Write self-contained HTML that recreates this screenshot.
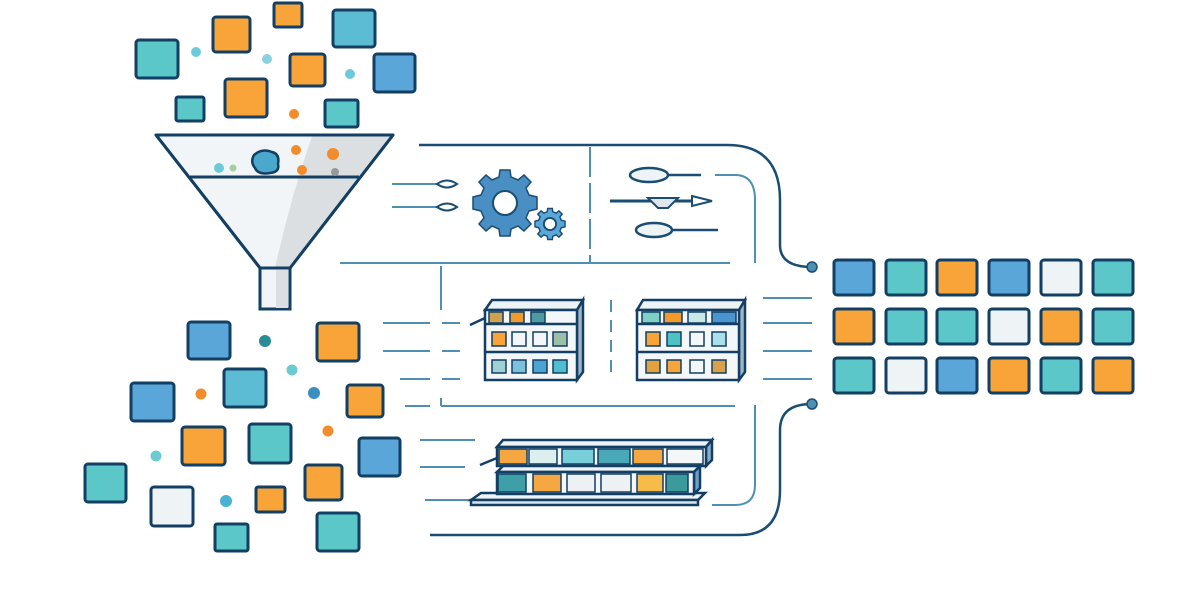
<!DOCTYPE html>
<html><head><meta charset="utf-8"><style>html,body{margin:0;padding:0;background:#fff;width:1200px;height:600px;overflow:hidden}</style></head>
<body>
<svg width="1200" height="600" viewBox="0 0 1200 600" xmlns="http://www.w3.org/2000/svg">
<defs>
<style>
.s{stroke:#123f63;stroke-width:3;}
.t{fill:#5cc7c9}.b{fill:#5aa6d8}.o{fill:#f8a438}.w{fill:#eef3f6}.tb{fill:#5bbcd3}
.ln{stroke:#4f8fb3;stroke-width:2;fill:none}
.dk{stroke:#1a4d73;stroke-width:2.5;fill:none}
</style>
</defs>
<rect width="1200" height="600" fill="#fff"/>
<!-- top squares -->
<g class="s">
<rect class="t" x="136" y="40" width="42" height="38" rx="3"/>
<rect class="o" x="213" y="17" width="37" height="35" rx="3"/>
<rect class="o" x="274" y="3" width="28" height="24" rx="2"/>
<rect class="tb" x="333" y="10" width="42" height="37" rx="3"/>
<rect class="o" x="290" y="54" width="35" height="32" rx="3"/>
<rect class="b" x="374" y="54" width="41" height="38" rx="3"/>
<rect class="o" x="225" y="79" width="42" height="38" rx="3"/>
<rect class="t" x="176" y="97" width="28" height="24" rx="2"/>
<rect class="t" x="325" y="100" width="33" height="27" rx="2"/>
</g>
<circle cx="196" cy="52" r="5" fill="#6ccbdb"/>
<circle cx="267" cy="59" r="5" fill="#8cd0df"/>
<circle cx="350" cy="74" r="5" fill="#6ccbdb"/>
<circle cx="294" cy="114" r="5" fill="#f08c2c"/>
<!-- funnel -->
<path d="M156 135 L393 135 L290 268 L260 268 Z" fill="#f1f5f8" stroke="#123f63" stroke-width="3" stroke-linejoin="round"/>
<path d="M312 136 L393 135 L290 268 L275 268 Q290 200 312 136Z" fill="#dcdfe2"/>
<path d="M156 135 L393 135 L290 268 L260 268 Z" fill="none" stroke="#123f63" stroke-width="3" stroke-linejoin="round"/>
<line x1="190" y1="177" x2="359" y2="177" stroke="#123f63" stroke-width="3"/>
<rect x="260" y="268" width="30" height="41" fill="#f1f5f8" stroke="#123f63" stroke-width="3"/>
<rect x="276" y="270" width="12" height="38" fill="#dcdfe2"/>
<path d="M254 155 Q262 148 272 152 Q280 154 278 164 Q280 172 270 173 Q258 175 255 168 Q250 162 254 155Z" fill="#4aa8cc" stroke="#123f63" stroke-width="2.5"/>
<circle cx="219" cy="168" r="5" fill="#6ccbdb"/><circle cx="233" cy="168" r="3.5" fill="#a3d0a0"/>
<circle cx="296" cy="150" r="5" fill="#f08c2c"/><circle cx="302" cy="170" r="5" fill="#f08c2c"/><circle cx="333" cy="154" r="6" fill="#f08c2c"/><circle cx="335" cy="172" r="4" fill="#999"/>
<!-- bottom-left squares -->
<g class="s">
<rect class="b" x="188" y="322" width="42" height="37" rx="3"/>
<rect class="o" x="317" y="323" width="42" height="38" rx="3"/>
<rect class="tb" x="224" y="369" width="42" height="38" rx="3"/>
<rect class="b" x="131" y="383" width="43" height="38" rx="3"/>
<rect class="o" x="347" y="385" width="36" height="32" rx="3"/>
<rect class="o" x="182" y="427" width="43" height="38" rx="3"/>
<rect class="t" x="249" y="424" width="42" height="39" rx="3"/>
<rect class="b" x="359" y="438" width="41" height="38" rx="3"/>
<rect class="t" x="85" y="464" width="41" height="38" rx="3"/>
<rect class="w" x="151" y="487" width="42" height="39" rx="3"/>
<rect class="o" x="256" y="487" width="29" height="25" rx="2"/>
<rect class="o" x="305" y="465" width="37" height="35" rx="3"/>
<rect class="t" x="215" y="524" width="33" height="27" rx="2"/>
<rect class="t" x="317" y="513" width="42" height="38" rx="3"/>
</g>
<circle cx="265" cy="341" r="6" fill="#2a8c94"/><circle cx="292" cy="370" r="5.5" fill="#6ccbd0"/>
<circle cx="201" cy="394" r="5.5" fill="#f08c2c"/><circle cx="314" cy="393" r="6" fill="#3a8fc0"/>
<circle cx="328" cy="431" r="5.5" fill="#f08c2c"/><circle cx="156" cy="456" r="5.5" fill="#6ccbd0"/>
<circle cx="226" cy="501" r="6" fill="#4ab3d3"/>
<!-- connector lines -->
<path class="dk" d="M419 145 H727 Q780 145 780 200 V245 Q780 267 812 267"/>
<circle cx="812" cy="267" r="5" fill="#4f8fb3" stroke="#1a4d73" stroke-width="1.5"/>
<path class="dk" d="M430 535 H740 Q780 535 780 490 V430 Q780 404 812 404"/>
<circle cx="812" cy="404" r="5" fill="#4f8fb3" stroke="#1a4d73" stroke-width="1.5"/>
<path class="ln" d="M715 175 H735 Q755 175 755 200 V263"/>
<path class="ln" d="M755 405 V485 Q755 505 735 505 H712"/>
<line class="ln" x1="590" y1="147" x2="590" y2="263" stroke-dasharray="30 6"/>
<line class="ln" x1="340" y1="263" x2="730" y2="263"/>
<line class="ln" x1="441" y1="266" x2="441" y2="310" />
<line class="ln" x1="441" y1="406" x2="735" y2="406"/>
<line class="ln" x1="441" y1="398" x2="441" y2="406"/>
<line class="ln" x1="611" y1="300" x2="611" y2="380" stroke-dasharray="12 8"/>
<line class="ln" x1="392" y1="184" x2="440" y2="184"/>
<line class="ln" x1="392" y1="207" x2="440" y2="207"/>
<path d="M437 184 Q447 177 457 184 Q447 191 437 184Z M437 207 Q447 200 457 207 Q447 214 437 207Z" fill="#fff" stroke="#1a4d73" stroke-width="2"/>
<g class="ln">
<path d="M383 323 H430 M442 323 H460 M383 351 H430 M442 351 H460 M400 379 H430 M442 379 H460 M405 406 H430"/>
<path d="M763 298 H812 M763 323 H812 M763 351 H812 M763 379 H812"/>
<path d="M420 440 H475 M420 467 H465 M425 500 H470"/>
</g>
<!-- gears -->
<g transform="translate(505,203)">
<g fill="#4a8fc4" stroke="#1a4d73" stroke-width="1.5">
<path d="M-5 -33 H5 L6 -26 L13 -23 L19 -28 L26 -21 L21 -15 L24 -8 L32 -6 V6 L24 8 L21 15 L26 21 L19 28 L13 23 L6 26 L5 33 H-5 L-6 26 L-13 23 L-19 28 L-26 21 L-21 15 L-24 8 L-32 6 V-6 L-24 -8 L-21 -15 L-26 -21 L-19 -28 L-13 -23 L-6 -26Z"/>
</g>
<circle r="12" fill="#fff" stroke="#1a4d73" stroke-width="2"/>
</g>
<g transform="translate(550,224) scale(0.47)">
<path d="M-5 -33 H5 L6 -26 L13 -23 L19 -28 L26 -21 L21 -15 L24 -8 L32 -6 V6 L24 8 L21 15 L26 21 L19 28 L13 23 L6 26 L5 33 H-5 L-6 26 L-13 23 L-19 28 L-26 21 L-21 15 L-24 8 L-32 6 V-6 L-24 -8 L-21 -15 L-26 -21 L-19 -28 L-13 -23 L-6 -26Z" fill="#5aa6d8" stroke="#1a4d73" stroke-width="3"/>
<circle r="13" fill="#fff" stroke="#1a4d73" stroke-width="4"/>
</g>
<!-- spoons -->
<line x1="665" y1="175" x2="701" y2="175" stroke="#1a4d73" stroke-width="2.5"/>
<ellipse cx="649" cy="175" rx="19" ry="7" fill="#eef3f6" stroke="#1a4d73" stroke-width="2.5"/>
<line x1="610" y1="201" x2="710" y2="201" stroke="#1a4d73" stroke-width="3"/>
<path d="M648 198 H678 L668 208 H658Z" fill="#dfe6ec" stroke="#1a4d73" stroke-width="2"/>
<path d="M692 196 L712 201 L692 206Z" fill="#fff" stroke="#1a4d73" stroke-width="2"/>
<line x1="670" y1="230" x2="718" y2="230" stroke="#1a4d73" stroke-width="2.5"/>
<ellipse cx="654" cy="230" rx="18" ry="7" fill="#eef3f6" stroke="#1a4d73" stroke-width="2.5"/>
<!-- cabinet 1 -->
<g stroke="#123f63" stroke-width="2.5">
<path d="M485 310 L492 300 H583 L577 310Z" fill="#eef3f6"/>
<path d="M577 310 L583 300 V372 L577 380Z" fill="#9fb6c8"/>
<rect x="485" y="310" width="92" height="70" fill="#f4f7fa"/>
<line x1="485" y1="324" x2="577" y2="324"/><line x1="485" y1="352" x2="577" y2="352"/>
<path d="M470 325 L485 318" fill="none"/>
</g>
<g stroke="#123f63" stroke-width="1.5">
<rect x="489" y="312" width="14" height="11" fill="#d0a24e"/><rect x="510" y="312" width="14" height="11" fill="#f29a2c"/><rect x="531" y="312" width="14" height="11" fill="#4f9aa3"/>
<rect x="492" y="332" width="14" height="14" fill="#f8a438"/><rect x="512" y="332" width="14" height="14" fill="#f4f7fa"/><rect x="533" y="332" width="14" height="14" fill="#f4f7fa"/><rect x="553" y="332" width="14" height="14" fill="#9cbfa8"/>
<rect x="492" y="360" width="14" height="13" fill="#9fd0d4"/><rect x="512" y="360" width="14" height="13" fill="#7cc1dc"/><rect x="533" y="360" width="14" height="13" fill="#4aa3d0"/><rect x="553" y="360" width="14" height="13" fill="#4fbfd0"/>
</g>
<!-- cabinet 2 -->
<g stroke="#123f63" stroke-width="2.5">
<path d="M637 310 L643 300 H745 L739 310Z" fill="#eef3f6"/>
<path d="M739 310 L745 300 V372 L739 380Z" fill="#9fb6c8"/>
<rect x="637" y="310" width="102" height="70" fill="#f4f7fa"/>
<line x1="637" y1="324" x2="739" y2="324"/><line x1="637" y1="352" x2="739" y2="352"/>
</g>
<g stroke="#123f63" stroke-width="1.5">
<rect x="642" y="312" width="18" height="11" fill="#7ecfc4"/><rect x="664" y="312" width="18" height="11" fill="#f29a2c"/><rect x="688" y="312" width="18" height="11" fill="#c9e8e6"/><rect x="712" y="312" width="24" height="11" fill="#4a95cf"/>
<rect x="646" y="332" width="14" height="14" fill="#f8a438"/><rect x="667" y="332" width="14" height="14" fill="#4fc0c4"/><rect x="690" y="332" width="14" height="14" fill="#f4f7fa"/><rect x="712" y="332" width="14" height="14" fill="#a9e0ea"/>
<rect x="646" y="360" width="14" height="13" fill="#e3a23e"/><rect x="667" y="360" width="14" height="13" fill="#f8a438"/><rect x="690" y="360" width="14" height="13" fill="#f4f7fa"/><rect x="712" y="360" width="14" height="13" fill="#d9a24a"/>
</g>
<!-- bottom rack -->
<g stroke="#123f63" stroke-width="2.5">
<path d="M471 500 L481 493 H705 L698 500 Z" fill="#eef3f6"/>
<rect x="471" y="500" width="227" height="5" fill="#dde6ee"/>
<path d="M497 447 L503 440 H712 L706 447Z" fill="#eef3f6"/>
<path d="M706 447 L712 440 V460 L706 466Z" fill="#8aaecb"/>
<rect x="497" y="447" width="209" height="19" fill="#f4f7fa"/>
<path d="M480 465 L497 458" fill="none"/>
<path d="M497 472 L503 466 H700 L694 472Z" fill="#eef3f6"/>
<path d="M694 472 L700 466 V488 L694 494Z" fill="#6fa0c4"/>
<rect x="497" y="472" width="197" height="22" fill="#f4f7fa"/>
</g>
<g stroke="#123f63" stroke-width="1.5">
<rect x="499" y="449" width="28" height="15" fill="#f5a742"/><rect x="529" y="449" width="28" height="15" fill="#dceff0"/><rect x="562" y="449" width="32" height="15" fill="#79cfd9"/><rect x="598" y="449" width="32" height="15" fill="#4aa9b8"/><rect x="633" y="449" width="30" height="15" fill="#f5a742"/><rect x="667" y="449" width="36" height="15" fill="#f4f7fa"/>
<rect x="498" y="474" width="28" height="18" fill="#3e9fa8"/><rect x="533" y="474" width="28" height="18" fill="#f5a742"/><rect x="567" y="474" width="28" height="18" fill="#eef1f3"/><rect x="601" y="474" width="30" height="18" fill="#eef1f3"/><rect x="637" y="474" width="26" height="18" fill="#f7bb4a"/><rect x="666" y="474" width="22" height="18" fill="#3a9a9c"/>
</g>
<!-- right grid -->
<g class="s">
<rect class="b" x="834" y="260" width="40" height="35" rx="3"/><rect class="t" x="886" y="260" width="40" height="35" rx="3"/><rect class="o" x="937" y="260" width="40" height="35" rx="3"/><rect class="b" x="989" y="260" width="40" height="35" rx="3"/><rect class="w" x="1041" y="260" width="40" height="35" rx="3"/><rect class="t" x="1093" y="260" width="40" height="35" rx="3"/>
<rect class="o" x="834" y="309" width="40" height="35" rx="3"/><rect class="t" x="886" y="309" width="40" height="35" rx="3"/><rect class="t" x="937" y="309" width="40" height="35" rx="3"/><rect class="w" x="989" y="309" width="40" height="35" rx="3"/><rect class="o" x="1041" y="309" width="40" height="35" rx="3"/><rect class="t" x="1093" y="309" width="40" height="35" rx="3"/>
<rect class="t" x="834" y="358" width="40" height="35" rx="3"/><rect class="w" x="886" y="358" width="40" height="35" rx="3"/><rect class="b" x="937" y="358" width="40" height="35" rx="3"/><rect class="o" x="989" y="358" width="40" height="35" rx="3"/><rect class="t" x="1041" y="358" width="40" height="35" rx="3"/><rect class="o" x="1093" y="358" width="40" height="35" rx="3"/>
</g>
</svg>
</body></html>
